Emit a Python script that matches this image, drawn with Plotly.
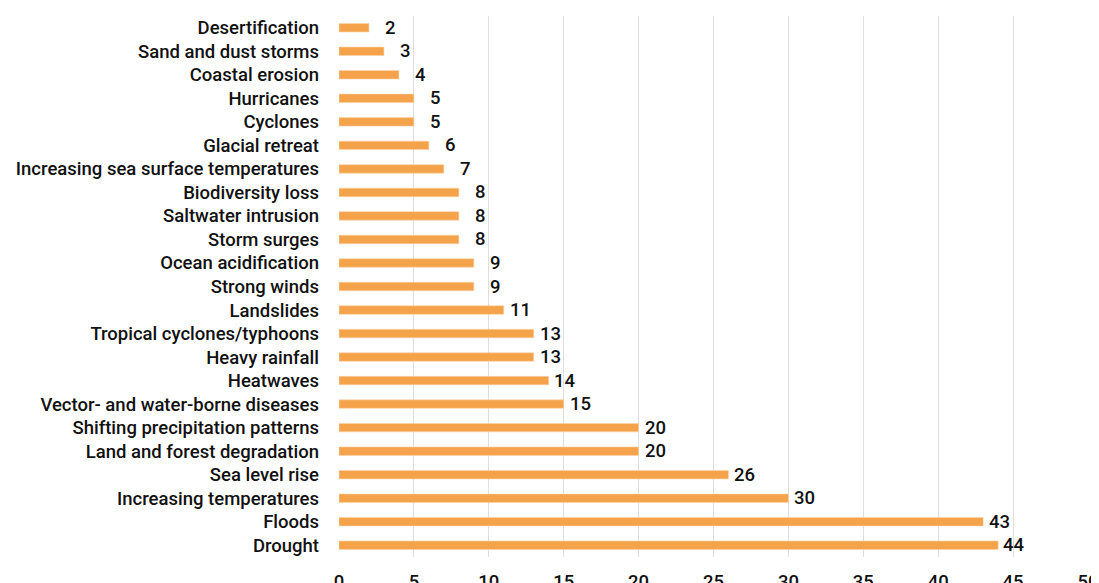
import plotly.graph_objects as go

categories = [
    "Desertification", "Sand and dust storms", "Coastal erosion", "Hurricanes",
    "Cyclones", "Glacial retreat", "Increasing sea surface temperatures",
    "Biodiversity loss", "Saltwater intrusion", "Storm surges",
    "Ocean acidification", "Strong winds", "Landslides",
    "Tropical cyclones/typhoons", "Heavy rainfall", "Heatwaves",
    "Vector- and water-borne diseases", "Shifting precipitation patterns",
    "Land and forest degradation", "Sea level rise", "Increasing temperatures",
    "Floods", "Drought",
]
values = [2, 3, 4, 5, 5, 6, 7, 8, 8, 8, 9, 9, 11, 13, 13, 14, 15, 20, 20, 26, 30, 43, 44]
x_ticks = [0, 5, 10, 15, 20, 25, 30, 35, 40, 45, 50]

FONT = "Roboto"
BAR = "#F5A34B"
TXT = dict(family=FONT, size=18.5, color="#111111", weight=500)

fig = go.Figure()
fig.add_trace(go.Bar(
    x=values, y=categories, orientation="h",
    marker=dict(color=BAR, line=dict(color="#FBD2A6", width=0.6)),
    hoverinfo="skip",
))
for c, v in zip(categories, values):
    fig.add_annotation(x=v, y=c, text=str(v), showarrow=False,
                       xanchor="right", xshift=29, yshift=0, font=TXT)

# page body has an 8px default margin: compensate so the plot area lands where the reference has it
fig.update_layout(
    width=1091, height=575,
    margin=dict(l=331, r=11, t=8, b=26, autoexpand=False),
    paper_bgcolor="white", plot_bgcolor="white",
    showlegend=False,
    font=TXT,
    bargap=0.64,
)
fig.update_xaxes(range=[0, 50], tickvals=x_ticks, showgrid=True,
                 gridcolor="#DEDEDE", gridwidth=1.2, zeroline=False,
                 showline=False, ticks="", ticklabelstandoff=11,
                 tickfont=TXT, automargin=False, fixedrange=True)
fig.update_yaxes(categoryorder="array", categoryarray=categories[::-1],
                 range=[-0.5, len(categories) - 0.5],
                 showgrid=False, zeroline=False, showline=False, ticks="",
                 ticklabelstandoff=19, tickfont=TXT,
                 automargin=False, fixedrange=True)

fig.write_html("out.html")
